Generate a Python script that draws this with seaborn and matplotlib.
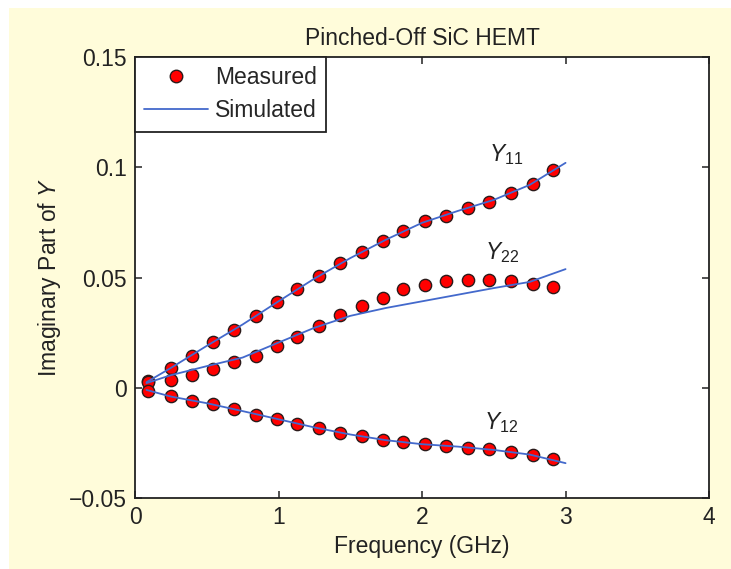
import matplotlib
matplotlib.use("Agg")
import matplotlib.pyplot as plt
import seaborn as sns
import pandas as pd
from matplotlib.lines import Line2D
from matplotlib.patches import Rectangle

# Measured imaginary parts of the Y-parameters (S), frequency in GHz
freq_meas = [0.09, 0.25, 0.40, 0.54, 0.69, 0.84, 0.99, 1.13, 1.28, 1.43,
             1.58, 1.73, 1.87, 2.02, 2.17, 2.32, 2.47, 2.62, 2.77, 2.91]
y11_meas = [0.0030, 0.0089, 0.0145, 0.0208, 0.0263, 0.0327, 0.0388, 0.0446, 0.0509, 0.0565,
            0.0614, 0.0665, 0.0710, 0.0757, 0.0781, 0.0816, 0.0844, 0.0883, 0.0925, 0.0989]
y22_meas = [0.0025, 0.0036, 0.0059, 0.0087, 0.0115, 0.0146, 0.0190, 0.0232, 0.0281, 0.0328,
            0.0370, 0.0407, 0.0446, 0.0465, 0.0482, 0.0490, 0.0490, 0.0482, 0.0472, 0.0459]
y12_meas = [-0.0017, -0.0039, -0.0060, -0.0075, -0.0097, -0.0122, -0.0142, -0.0163, -0.0183, -0.0203,
            -0.0218, -0.0239, -0.0246, -0.0256, -0.0262, -0.0272, -0.0280, -0.0290, -0.0303, -0.0322]

# Simulated model curves
freq_sim = [0.08, 0.25, 0.50, 0.75, 1.00, 1.25, 1.50, 1.75, 2.00, 2.25, 2.50, 2.75, 3.00]
y11_sim = [0.0025, 0.0090, 0.0190, 0.0287, 0.0392, 0.0495, 0.0588, 0.0672, 0.0748, 0.0802,
           0.0852, 0.0920, 0.1020]
y22_sim = [0.0021, 0.0057, 0.0098, 0.0137, 0.0205, 0.0272, 0.0326, 0.0362, 0.0392, 0.0422,
           0.0452, 0.0480, 0.0538]
y12_sim = [-0.0010, -0.0040, -0.0070, -0.0106, -0.0143, -0.0180, -0.0212, -0.0238, -0.0256, -0.0267,
           -0.0282, -0.0303, -0.0342]

param_names = ["Y11", "Y22", "Y12"]
param_labels = ["$Y_{11}$", "$Y_{22}$", "$Y_{12}$"]
label_pos = [(2.47, 0.1057), (2.44, 0.0612), (2.43, -0.0160)]

x_ticks = [0, 1, 2, 3, 4]
x_tick_labels = ["0", "1", "2", "3", "4"]
y_ticks = [-0.05, 0.0, 0.05, 0.10, 0.15]
y_tick_labels = ["\u22120.05", "0", "0.05", "0.1", "0.15"]

meas = pd.DataFrame({
    "freq": freq_meas * 3,
    "value": y11_meas + y22_meas + y12_meas,
    "param": sum([[p] * len(freq_meas) for p in param_names], []),
})
sim = pd.DataFrame({
    "freq": freq_sim * 3,
    "value": y11_sim + y22_sim + y12_sim,
    "param": sum([[p] * len(freq_sim) for p in param_names], []),
})

sns.set_theme(style="ticks")
plt.rcParams.update({
    "font.family": ["Liberation Sans", "DejaVu Sans"],
    "mathtext.fontset": "custom",
    "mathtext.rm": "Liberation Sans",
    "mathtext.it": "Liberation Sans:italic",
    "axes.unicode_minus": True,
})

FS = 16.5
RED = "#FF0000"
BLUE = "#4369CC"
INK = "#222222"
PANEL = "#FFFCDA"

fig = plt.figure(figsize=(7.31, 5.69), dpi=100, facecolor="white")
fig.patches.append(Rectangle((9 / 731, 0), 1 - 9 / 731, 1 - 8 / 569,
                             transform=fig.transFigure, facecolor=PANEL,
                             edgecolor="none", zorder=-10))
ax = fig.add_axes([0.1847, 0.1248, 0.7853, 0.775])
ax.set_facecolor("white")

sns.scatterplot(data=meas, x="freq", y="value", ax=ax, color=RED, s=78,
                edgecolor="#2a1a1a", linewidth=1.0, legend=False, zorder=2)
sns.lineplot(data=sim, x="freq", y="value", units="param", estimator=None,
             ax=ax, color=BLUE, linewidth=1.3, legend=False, zorder=3)

for lab, (tx, ty) in zip(param_labels, label_pos):
    ax.text(tx, ty, lab, fontsize=FS, ha="left", va="center", color=INK)

ax.set_xlim(0, 4)
ax.set_ylim(-0.05, 0.15)
ax.set_xticks(x_ticks)
ax.set_xticklabels(x_tick_labels)
ax.set_yticks(y_ticks)
ax.set_yticklabels(y_tick_labels)
ax.tick_params(direction="in", top=True, right=True, length=5, width=1.1,
               labelsize=FS, colors=INK, pad=6)
for s in ax.spines.values():
    s.set_visible(True)
    s.set_color(INK)
    s.set_linewidth(1.3)

ax.set_xlabel("Frequency (GHz)", fontsize=FS, color=INK, labelpad=4)
ax.set_ylabel("Imaginary Part of $\\mathit{Y}$", fontsize=FS, color=INK, labelpad=4)
ax.set_title("Pinched-Off SiC HEMT", fontsize=FS, color=INK, pad=9)

handles = [
    Line2D([], [], linestyle="none", marker="o", markersize=9,
           markerfacecolor=RED, markeredgecolor="#2a1a1a", markeredgewidth=1.0),
    Line2D([], [], color=BLUE, linewidth=1.3),
]
leg = ax.legend(handles, ["Measured", "Simulated"], loc="upper left",
                fontsize=FS, frameon=True, fancybox=False, framealpha=1,
                edgecolor=INK, borderaxespad=0, handlelength=2.8,
                handletextpad=0.3, borderpad=0.4, labelspacing=0.45)
leg.get_frame().set_linewidth(1.3)

fig.savefig("out.png", dpi=100)
